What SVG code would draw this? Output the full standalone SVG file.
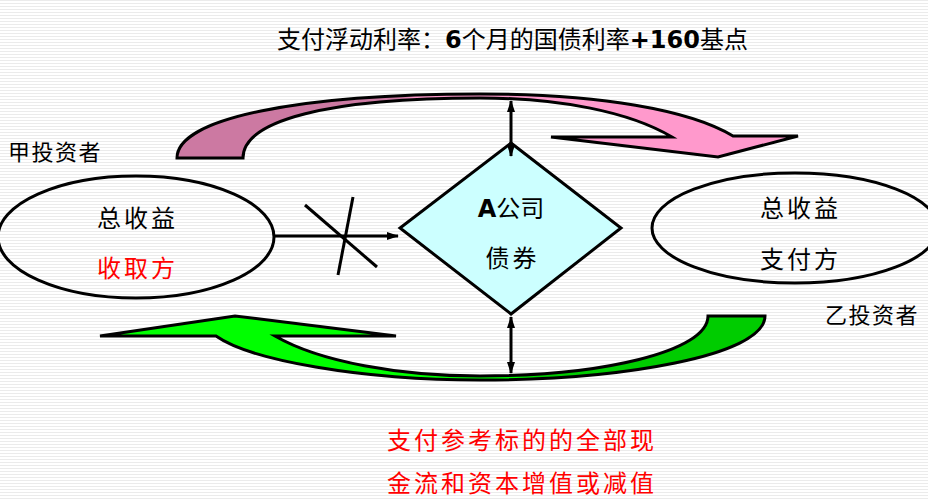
<svg xmlns="http://www.w3.org/2000/svg" width="928" height="500" viewBox="0 0 928 500">
<style>
.t{font-family:"Noto Sans CJK SC","Noto Sans",sans-serif;font-size:24px;fill:#000}
.s{font-size:22px;letter-spacing:1.5px}
.red{fill:#ff0000}
.b{font-family:"DejaVu Sans",sans-serif;font-weight:bold}
.ln{stroke:#000;stroke-width:3;fill:none}
.shape{stroke:#000;stroke-width:3;stroke-linejoin:miter}
</style>
<defs>
<pattern id="bg" width="8" height="3" patternUnits="userSpaceOnUse"><rect width="8" height="3" fill="#fff"/><rect width="8" height="1" fill="#ebebeb"/></pattern>
<linearGradient id="pink" x1="177" y1="0" x2="800" y2="0" gradientUnits="userSpaceOnUse"><stop offset="0.36" stop-color="#cc79a2"/><stop offset="0.38" stop-color="#ff99cc"/></linearGradient>
<linearGradient id="green" x1="100" y1="0" x2="765" y2="0" gradientUnits="userSpaceOnUse"><stop offset="0.64" stop-color="#00ff00"/><stop offset="0.66" stop-color="#00cc00"/></linearGradient>
<marker id="ah" viewBox="0 0 12 8" markerWidth="12" markerHeight="8" refX="11" refY="4" orient="auto-start-reverse" markerUnits="userSpaceOnUse"><path d="M0,0 L12,4 L0,8 Z" fill="#000"/></marker>
</defs>
<rect width="928" height="500" fill="url(#bg)"/>

<text class="t" x="277" y="48">支付浮动利率：<tspan class="b">6</tspan>个月的国债利率<tspan class="b">+160</tspan>基点</text>

<g id="arrow-top">
<path class="shape" fill="url(#pink)" d="M177,158 C177,118 300,94 480,94 C600,94 690,110 733,136 L798,136 L718,157 L551,137 L672,137 C630,112 560,98 480,98 C330,98 243,120 243,158 Z"/>
</g>
<g id="arrow-bottom">
<path class="shape" fill="url(#green)" d="M708,316 L765,316 C765,356 620,380 480,380 C360,380 250,360 216,336 L100,336 L235,316 L396,336 L275,336 C320,362 400,376 480,376 C600,376 708,352 708,316 Z"/>
</g>

<g id="node-jia">
<ellipse cx="136" cy="237" rx="138" ry="61" fill="none" stroke="#000" stroke-width="3"/>
<text class="t" x="137.5" y="227" text-anchor="middle" letter-spacing="3">总收益</text>
<text class="t red" x="137.5" y="277" text-anchor="middle" letter-spacing="3">收取方</text>
</g>
<text class="t s" x="8" y="160">甲投资者</text>

<g id="node-yi">
<ellipse cx="795" cy="228" rx="143" ry="55" fill="none" stroke="#000" stroke-width="3"/>
<text class="t" x="800.5" y="217" text-anchor="middle" letter-spacing="3">总收益</text>
<text class="t" x="800.5" y="268" text-anchor="middle" letter-spacing="3">支付方</text>
</g>
<text class="t s" x="825" y="323">乙投资者</text>

<g id="node-bond">
<polygon points="511,143 621,228 511,314 400,228" fill="#ccffff" stroke="#000" stroke-width="3"/>
<text class="t" x="511" y="217" text-anchor="middle"><tspan class="b">A</tspan>公司</text>
<text class="t" x="512.5" y="267" text-anchor="middle" letter-spacing="3">债券</text>
</g>

<g id="connectors">
<line class="ln" x1="511" y1="101" x2="511" y2="156" marker-start="url(#ah)" marker-end="url(#ah)"/>
<line class="ln" x1="511" y1="317" x2="511" y2="373" marker-start="url(#ah)" marker-end="url(#ah)"/>
<line class="ln" x1="273" y1="236" x2="398" y2="236" marker-end="url(#ah)"/>
<line class="ln" x1="305" y1="205" x2="377" y2="267"/>
<line class="ln" x1="353" y1="197" x2="338" y2="275"/>
</g>

<text class="t red" x="387" y="449" letter-spacing="3">支付参考标的的全部现</text>
<text class="t red" x="387" y="492" letter-spacing="3">金流和资本增值或减值</text>
</svg>
